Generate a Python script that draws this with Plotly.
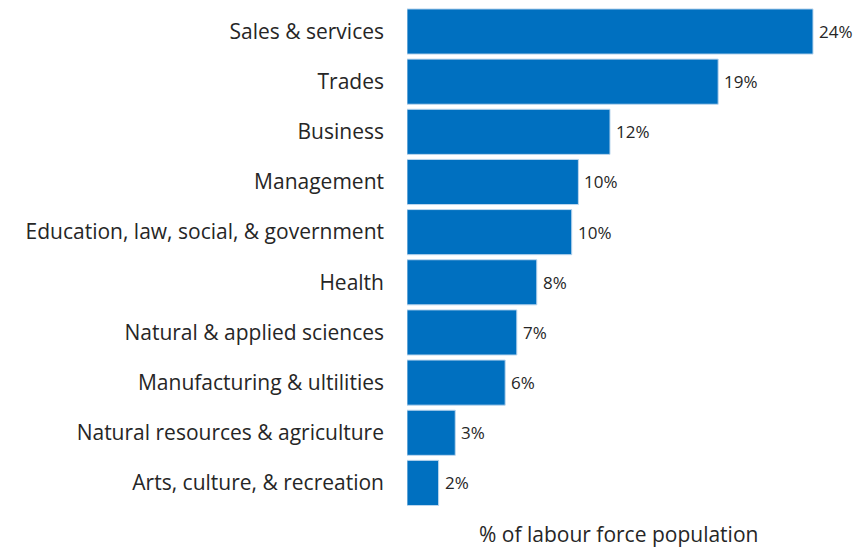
import plotly.graph_objects as go

categories = [
    "Sales & services",
    "Trades",
    "Business",
    "Management",
    "Education, law, social, & government",
    "Health",
    "Natural & applied sciences",
    "Manufacturing & ultilities",
    "Natural resources & agriculture",
    "Arts, culture, & recreation",
]
values = [24.4, 18.7, 12.2, 10.3, 9.9, 7.8, 6.6, 5.9, 2.9, 1.9]
labels = [f"{round(v)}%" for v in values]
axis_title = "% of labour force population"

FONT = "Open Sans"
TXT = "#262626"
W, H = 854, 542
ml, mr, mt, mb = 399, 40, 0, 42.45

fig = go.Figure()
fig.add_trace(go.Bar(
    y=categories,
    x=values,
    orientation="h",
    marker=dict(color="#0070C0", line=dict(color="#BDD7EE", width=1)),
    hoverinfo="skip",
))

for c, v, t in zip(categories, values, labels):
    fig.add_annotation(
        x=v, y=c, xref="x", yref="y", text=t, showarrow=False,
        xanchor="left", yanchor="middle", xshift=4,
        font=dict(family=FONT, size=17, color=TXT),
    )

fig.add_annotation(
    x=0.51, y=0, xref="paper", yref="paper", text=axis_title, showarrow=False,
    xanchor="center", yanchor="middle", yshift=-26,
    font=dict(family=FONT, size=21, color=TXT),
)

fig.update_layout(
    width=W, height=H,
    margin=dict(l=ml, r=mr, t=mt, b=mb, pad=0),
    paper_bgcolor="white", plot_bgcolor="white",
    bargap=0.1,
    showlegend=False,
    font=dict(family=FONT, size=20, color=TXT),
    xaxis=dict(range=[0, 24.94], showgrid=False, zeroline=False,
               showticklabels=False, showline=False, ticks=""),
    yaxis=dict(range=[9.5, -0.469], showgrid=False, zeroline=False,
               showline=False, ticks="", ticklabelstandoff=22,
               tickfont=dict(family=FONT, size=21, color=TXT)),
)

fig.write_html("out.html")
